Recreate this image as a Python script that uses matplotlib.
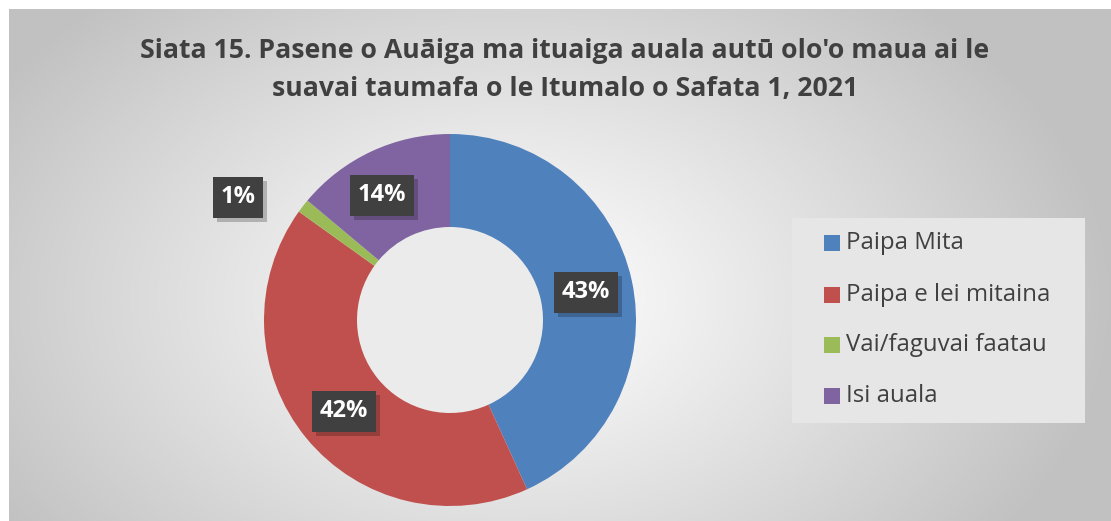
import numpy as np
import matplotlib
matplotlib.use("Agg")
import matplotlib.pyplot as plt
from matplotlib.patches import Rectangle

title = "Siata 15. Pasene o Auāiga ma ituaiga auala autū olo'o maua ai le\nsuavai taumafa o le Itumalo o Safata 1, 2021"
categories = ["Paipa Mita", "Paipa e lei mitaina", "Vai/faguvai faatau", "Isi auala"]
values = [43.2, 41.7, 1.2, 13.9]
labels = ["43%", "42%", "1%", "14%"]
colors = ["#4f81bd", "#c0504d", "#9bbb59", "#8064a2"]

W, H = 1111, 521
fig = plt.figure(figsize=(W / 100, H / 100), dpi=100)
fig.patch.set_facecolor("white")

# background gradient panel
bg = fig.add_axes([9 / W, 0, 1 - 9 / W, 1 - 9 / H])
yy, xx = np.mgrid[0:512, 0:1102]
cx, cy = 500, 290
d = np.sqrt(((xx - cx) / 600.0) ** 2 + ((yy - cy) / 400.0) ** 2)
val = 1.0 - 0.24 * np.clip(d, 0, 1) ** 1.1
img = np.dstack([val, val, val])
bg.imshow(img, aspect="auto", extent=[0, 1, 0, 1], origin="upper")
bg.set_axis_off()

fig.text(565 / W, 1 - 70 / H, title, ha="center", va="center", fontsize=19.2,
         fontweight="bold", color="#404040", family="Open Sans", linespacing=1.6,
         multialignment="center")

# donut
r = 186
cxp, cyp = 450, 320
ax = fig.add_axes([(cxp - r) / W, (H - cyp - r) / H, 2 * r / W, 2 * r / H])
wedges, _ = ax.pie(values, colors=colors, startangle=90, counterclock=False,
                   wedgeprops=dict(width=0.5, edgecolor="none"), radius=1.0)
ax.set_xlim(-1, 1)
ax.set_ylim(-1, 1)
ax.set_aspect("equal")
ax.set_axis_off()

# hole shading
hole = plt.Circle((0, 0), 0.5, color="#ebebeb", zorder=0.5)
ax.add_patch(hole)

# data label boxes (pixel centers)
label_pos = [(586, 292), (344, 411), (238, 197), (382, 195)]
for (px, py), lab in zip(label_pos, labels):
    w = 64 if len(lab) == 3 else 50
    h = 41
    x0 = px - w / 2
    y0 = H - py - h / 2
    shadow = Rectangle(((x0 + 4) / W, (y0 - 4) / H), w / W, h / H,
                       transform=fig.transFigure, facecolor="#000000", alpha=0.22,
                       edgecolor="none", zorder=9)
    fig.patches.append(shadow)
    box = Rectangle((x0 / W, y0 / H), w / W, h / H, transform=fig.transFigure,
                    facecolor="#404040", edgecolor="none", zorder=10)
    fig.patches.append(box)
    fig.text(px / W, (H - py) / H, lab, ha="center", va="center", fontsize=17,
             fontweight="bold", color="white", family="Open Sans", zorder=11)

# legend
lx0, ly0, lx1, ly1 = 792, 218, 1085, 423
fig.patches.append(Rectangle((lx0 / W, (H - ly1) / H), (lx1 - lx0) / W, (ly1 - ly0) / H,
                             transform=fig.transFigure, facecolor="#e6e6e6",
                             edgecolor="none", zorder=5))
ys = [243, 295, 345, 396]
for yv, cat, col in zip(ys, categories, colors):
    fig.patches.append(Rectangle((824 / W, (H - yv - 8) / H), 16 / W, 16 / H,
                                 transform=fig.transFigure, facecolor=col,
                                 edgecolor="none", zorder=6))
    fig.text(846 / W, (H - yv) / H, cat, ha="left", va="center", fontsize=17.3,
             color="#404040", family="Open Sans", zorder=7)

fig.savefig("out.png", dpi=100)
